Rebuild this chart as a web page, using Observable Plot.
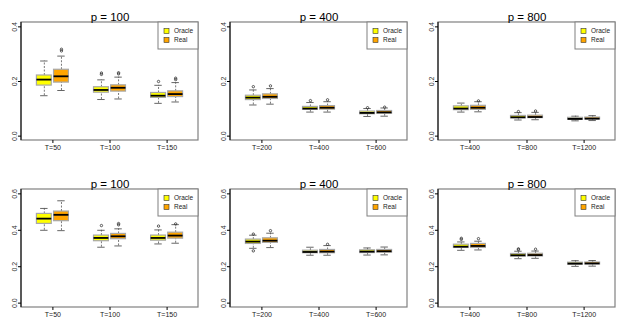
<!DOCTYPE html>
<html><head><meta charset="utf-8">
<script src="https://cdn.jsdelivr.net/npm/d3@7"></script>
<script src="https://cdn.jsdelivr.net/npm/@observablehq/plot@0.6"></script>
<style>
body{margin:0;background:#fff;}
#chart{position:relative;width:625px;height:334px;font-family:"Liberation Sans",Arial,Helvetica,sans-serif;}
#chart svg{position:absolute;overflow:visible;}
</style></head><body><div id="chart"></div>
<script>
const methods = ["Oracle", "Real"];
const methodColors = ["#FFFF00", "#FFA500"];
const titles = ["p = 100", "p = 400", "p = 800", "p = 100", "p = 400", "p = 800"];
const tickLabels = [
  ["T=50", "T=100", "T=150"], ["T=200", "T=400", "T=600"], ["T=400", "T=800", "T=1200"],
  ["T=50", "T=100", "T=150"], ["T=200", "T=400", "T=600"], ["T=400", "T=800", "T=1200"]
];
const yTicksTop = [0, 0.2, 0.4];
const yTicksBottom = [0, 0.2, 0.4, 0.6];

// five-number summaries per group: [lower whisker, Q1, median, Q3, upper whisker]
const oracleTop100 = [[0.148,0.185,0.207,0.222,0.275],[0.134,0.159,0.169,0.179,0.206],[0.120,0.140,0.148,0.158,0.186]];
const realTop100   = [[0.167,0.196,0.219,0.243,0.293],[0.136,0.163,0.177,0.186,0.216],[0.125,0.143,0.154,0.164,0.196]];
const outTop100    = [[0,1,0.318],[0,1,0.312],[1,0,0.226],[1,0,0.231],[1,1,0.228],[1,1,0.232],[2,0,0.200],[2,1,0.207],[2,1,0.212]];

const oracleTop400 = [[0.114,0.132,0.141,0.148,0.169],[0.088,0.096,0.101,0.107,0.123],[0.072,0.080,0.085,0.090,0.101]];
const realTop400   = [[0.117,0.136,0.144,0.153,0.174],[0.088,0.097,0.104,0.110,0.126],[0.073,0.082,0.087,0.092,0.103]];
const outTop400    = [[0,0,0.181],[0,1,0.184],[1,0,0.130],[1,1,0.133],[2,0,0.104],[2,1,0.106]];

const oracleTop800 = [[0.088,0.095,0.101,0.109,0.121],[0.059,0.065,0.069,0.074,0.086],[0.056,0.060,0.063,0.067,0.073]];
const realTop800   = [[0.089,0.096,0.104,0.111,0.126],[0.060,0.066,0.070,0.075,0.087],[0.057,0.061,0.064,0.068,0.075]];
const outTop800    = [[0,1,0.129],[1,0,0.090],[1,1,0.092]];

const oracleBot100 = [[0.400,0.435,0.464,0.490,0.520],[0.307,0.340,0.358,0.371,0.400],[0.325,0.343,0.358,0.371,0.402]];
const realBot100   = [[0.398,0.450,0.485,0.503,0.562],[0.314,0.351,0.367,0.380,0.408],[0.329,0.354,0.371,0.387,0.431]];
const outBot100    = [[1,0,0.426],[1,1,0.437],[1,1,0.430],[2,0,0.423],[2,1,0.435]];

const oracleBot400 = [[0.301,0.325,0.338,0.349,0.373],[0.263,0.274,0.281,0.288,0.307],[0.264,0.275,0.283,0.290,0.303]];
const realBot400   = [[0.305,0.331,0.343,0.356,0.384],[0.263,0.274,0.283,0.292,0.316],[0.265,0.277,0.285,0.292,0.308]];
const outBot400    = [[0,0,0.287],[0,0,0.379],[0,1,0.398],[1,1,0.323]];

const oracleBot800 = [[0.290,0.303,0.310,0.321,0.336],[0.244,0.255,0.263,0.270,0.285],[0.202,0.211,0.217,0.222,0.233]];
const realBot800   = [[0.292,0.303,0.314,0.325,0.340],[0.246,0.256,0.264,0.271,0.286],[0.203,0.212,0.218,0.223,0.234]];
const outBot800    = [[0,0,0.350],[0,0,0.356],[0,1,0.354],[1,0,0.294],[1,0,0.298],[1,1,0.296]];

const panels = [
  {title: titles[0], ticks: tickLabels[0], oracle: oracleTop100, real: realTop100, outs: outTop100, yMax: 0.4, yTicks: yTicksTop},
  {title: titles[1], ticks: tickLabels[1], oracle: oracleTop400, real: realTop400, outs: outTop400, yMax: 0.4, yTicks: yTicksTop},
  {title: titles[2], ticks: tickLabels[2], oracle: oracleTop800, real: realTop800, outs: outTop800, yMax: 0.4, yTicks: yTicksTop},
  {title: titles[3], ticks: tickLabels[3], oracle: oracleBot100, real: realBot100, outs: outBot100, yMax: 0.6, yTicks: yTicksBottom},
  {title: titles[4], ticks: tickLabels[4], oracle: oracleBot400, real: realBot400, outs: outBot400, yMax: 0.6, yTicks: yTicksBottom},
  {title: titles[5], ticks: tickLabels[5], oracle: oracleBot800, real: realBot800, outs: outBot800, yMax: 0.6, yTicks: yTicksBottom}
];

const FONT = '"Liberation Sans", Arial, Helvetica, sans-serif';
const OFF = 0.15, HW = 0.13, SW = 0.065;

function frameAndLegend(index, scales, values, dims) {
  const {width, height, marginLeft, marginRight, marginTop, marginBottom} = dims;
  const x0 = marginLeft, x1 = width - marginRight, y0 = marginTop, y1 = height - marginBottom;
  const g = d3.create("svg:g");
  g.append("rect").attr("x", x0).attr("y", y0).attr("width", x1 - x0).attr("height", y1 - y0)
    .attr("fill", "none").attr("stroke", "#808080").attr("stroke-width", 1.2);
  g.append("line").attr("x1", x0).attr("x2", x0).attr("y1", y0).attr("y2", y1)
    .attr("stroke", "#000").attr("stroke-width", 1);
  const lw = 40, lh = 27, lx = x1 - lw, ly = y0;
  g.append("rect").attr("x", lx).attr("y", ly).attr("width", lw).attr("height", lh)
    .attr("fill", "#fff").attr("stroke", "#808080").attr("stroke-width", 1);
  methods.forEach((m, i) => {
    const cy = ly + 9 + i * 9;
    g.append("rect").attr("x", lx + 6).attr("y", cy - 2.5).attr("width", 5).attr("height", 5)
      .attr("fill", methodColors[i]).attr("stroke", "#333").attr("stroke-width", 0.6);
    g.append("text").attr("x", lx + 16).attr("y", cy).attr("dy", "0.35em")
      .attr("text-anchor", "start")
      .attr("font-size", 6.5).attr("font-family", FONT).attr("fill", "#222").text(m);
  });
  return g.node();
}

const chart = document.getElementById("chart");
panels.forEach((p, i) => {
  const col = i % 3, row = Math.floor(i / 3);
  const boxes = [];
  [p.oracle, p.real].forEach((arr, m) => arr.forEach((s, gi) =>
    boxes.push({g: gi, m, lo: s[0], q1: s[1], med: s[2], q3: s[3], hi: s[4]})));
  const xc = d => d.g + (d.m === 0 ? -OFF : OFF);
  const pad = p.yMax * 0.04;
  const svg = Plot.plot({
    width: 208, height: 167,
    marginLeft: 21, marginRight: 10, marginTop: 22, marginBottom: 27,
    x: {domain: [-0.55, 2.55], axis: null},
    y: {domain: [-pad, p.yMax + pad], axis: null},
    style: {fontFamily: FONT, background: "transparent", color: "#000"},
    marks: [
      frameAndLegend,
      Plot.ruleX(boxes, {x: xc, y1: "q3", y2: "hi", stroke: "#555", strokeWidth: 0.8, strokeDasharray: "2,1.5"}),
      Plot.ruleX(boxes, {x: xc, y1: "lo", y2: "q1", stroke: "#555", strokeWidth: 0.8, strokeDasharray: "2,1.5"}),
      Plot.ruleY(boxes, {y: "hi", x1: d => xc(d) - SW, x2: d => xc(d) + SW, stroke: "#555", strokeWidth: 0.9}),
      Plot.ruleY(boxes, {y: "lo", x1: d => xc(d) - SW, x2: d => xc(d) + SW, stroke: "#555", strokeWidth: 0.9}),
      Plot.rect(boxes, {x1: d => xc(d) - HW, x2: d => xc(d) + HW, y1: "q1", y2: "q3",
        fill: d => methodColors[d.m], stroke: "#a8a8a8", strokeWidth: 1.2}),
      Plot.ruleY(boxes, {y: "med", x1: d => xc(d) - HW, x2: d => xc(d) + HW, stroke: "#000", strokeWidth: 1.8}),
      Plot.dot(p.outs, {x: d => d[0] + (d[1] === 0 ? -OFF : OFF), y: d => d[2], r: 1.2,
        stroke: "#333", strokeWidth: 0.8, fill: "none"}),
      Plot.axisY(p.yTicks, {tickRotate: -90, tickSize: 3, tickPadding: 2, fontSize: 7,
        tickFormat: d3.format(".1f"), stroke: "#000", fill: "#333"}),
      Plot.axisX([0, 1, 2], {tickSize: 3, tickPadding: 1.5, fontSize: 7,
        tickFormat: (d) => p.ticks[d], stroke: "#000", fill: "#222"}),
      Plot.text([p.title], {text: d => d, frameAnchor: "top", dy: -10, fontSize: 11.5, fill: "#000", fontWeight: "normal"})
    ]
  });
  svg.style.left = (col === 0 ? 0 : col === 1 ? 209 : 417) + "px";
  svg.style.top = (row * 167) + "px";
  chart.appendChild(svg);
});
</script>
</body></html>
